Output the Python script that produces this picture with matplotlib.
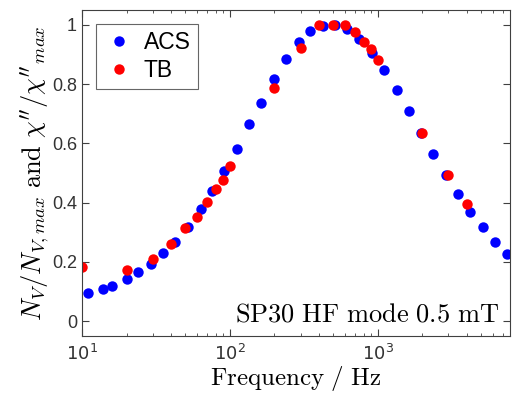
import numpy as np
import matplotlib
matplotlib.use("Agg")
import matplotlib.pyplot as plt

plt.rcParams['font.family'] = ['Liberation Sans', 'DejaVu Sans']
plt.rcParams['mathtext.fontset'] = 'dejavusans'

# ACS data
f_acs = [11.0, 13.9, 15.9, 20.1, 23.9, 29.2, 35.2, 42.5, 52.0, 63.7, 75.5, 91.0,
         111, 134, 162, 198, 239, 292, 347, 425, 512, 618, 745, 910,
         1098, 1343, 1620, 1954, 2356, 2880, 3474, 4190, 5119, 6175, 7447]
n_acs = [0.095, 0.108, 0.118, 0.142, 0.166, 0.193, 0.230, 0.267, 0.318, 0.378, 0.439, 0.507,
         0.581, 0.666, 0.736, 0.818, 0.885, 0.943, 0.980, 0.997, 1.000, 0.986, 0.953, 0.905,
         0.848, 0.780, 0.709, 0.635, 0.564, 0.493, 0.429, 0.368, 0.318, 0.267, 0.226]

# TB data
f_tb = [10, 20, 30, 40, 50, 60, 70, 80, 90, 100, 200, 300, 400, 500, 600, 700,
        800, 900, 1000, 2000, 3000, 4000]
n_tb = [0.182, 0.172, 0.209, 0.260, 0.314, 0.351, 0.402, 0.446, 0.476, 0.524, 0.787, 0.922,
        1.000, 1.000, 1.000, 0.976, 0.943, 0.919, 0.882, 0.635, 0.493, 0.395]

fig = plt.figure(figsize=(5.14, 3.97), dpi=100)
ax = fig.add_axes([0.1595, 0.1537, 0.8325, 0.8211])

ax.plot(f_acs, n_acs, 'o', color='#0000ff', markersize=7.5, markeredgewidth=0, label='ACS')
ax.plot(f_tb, n_tb, 'o', color='#ff0000', markersize=7.5, markeredgewidth=0, label='TB')

ax.set_xscale('log')
ax.set_xlim(10, 7800)
ax.set_ylim(-0.05, 1.05)
ax.set_yticks([0, 0.2, 0.4, 0.6, 0.8, 1])
ax.set_yticklabels(['0', '0.2', '0.4', '0.6', '0.8', '1'])
ax.set_xticks([10, 100, 1000])
ax.set_xticklabels([r'$10^1$', r'$10^2$', r'$10^3$'])

gray = '#404040'
for s in ax.spines.values():
    s.set_color(gray)
    s.set_linewidth(0.8)
ax.tick_params(which='both', direction='in', top=True, right=True, colors=gray,
               labelcolor='#333333', labelsize=13)
ax.tick_params(which='major', length=5)
ax.tick_params(which='minor', length=2.5)
ax.tick_params(axis='x', pad=6)

ax.set_xlabel(r'$\mathrm{Frequency\ /\ Hz}$', fontsize=18, math_fontfamily='cm', labelpad=0)
ax.set_ylabel(r"$N_V/N_{V,max}\ \mathrm{and}\ \chi''/\chi''_{max}$", fontsize=19,
              math_fontfamily='cm', labelpad=1)

ax.text(0.975, 0.03, r'$\mathrm{SP30\ HF\ mode\ 0.5\ mT}$', transform=ax.transAxes,
        ha='right', va='bottom', fontsize=19, math_fontfamily='cm')

leg = ax.legend(loc='upper left', fontsize=16.5, frameon=True, fancybox=False,
                handletextpad=0.4, borderpad=0.3, labelspacing=0.25,
                borderaxespad=0.6, handlelength=1.4)
leg.get_frame().set_edgecolor(gray)
leg.get_frame().set_linewidth(0.8)

fig.savefig('out.png', dpi=100)
